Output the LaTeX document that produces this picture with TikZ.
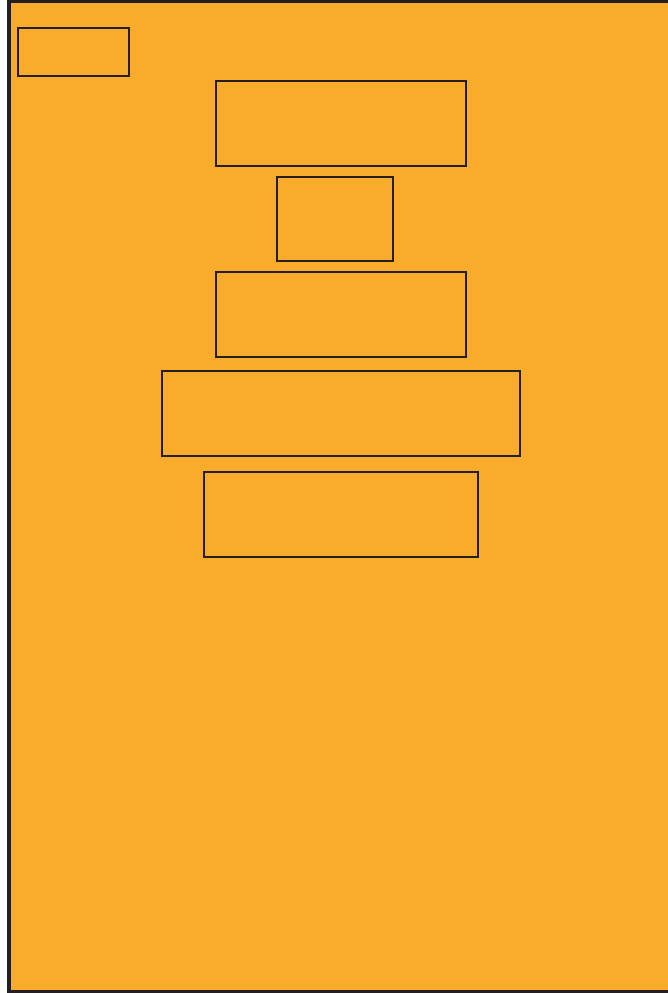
\documentclass[tikz,border=0pt]{standalone}
\definecolor{panelorange}{RGB}{249, 171, 43}
\definecolor{inkdark}{RGB}{35, 31, 32}
\usepackage{tikz}
\usetikzlibrary{positioning}

\begin{document}
\begin{tikzpicture}[x=0.02cm, y=-0.02cm,
    slot/.style={draw=inkdark, line width=1.45pt, inner sep=0pt, minimum height=1.7cm}]
  \useasboundingbox (0,0) rectangle (668,993);
  \clip (0,0) rectangle (668,993);

  % Panel
  \draw[draw=inkdark, fill=panelorange, line width=1.8pt] (9,1) rectangle (675,992);

  % Corner tag
  \node[slot, minimum width=2.22cm, minimum height=0.96cm] (tag) at (73.5, 52) {};

  % Stack of boxes
  \node[slot, minimum width=5cm] (top) at (341, 123.5) {};
  \node[slot, minimum width=2.32cm, minimum height=1.68cm] (mid) at (335, 219) {};
  \node[slot, minimum width=5cm] (lower) at (341, 314.5) {};
  \node[slot, minimum width=7.16cm] (wide) at (341, 413.5) {};
  \node[slot, minimum width=5.48cm] (base) at (341, 514.5) {};
\end{tikzpicture}
\end{document}
